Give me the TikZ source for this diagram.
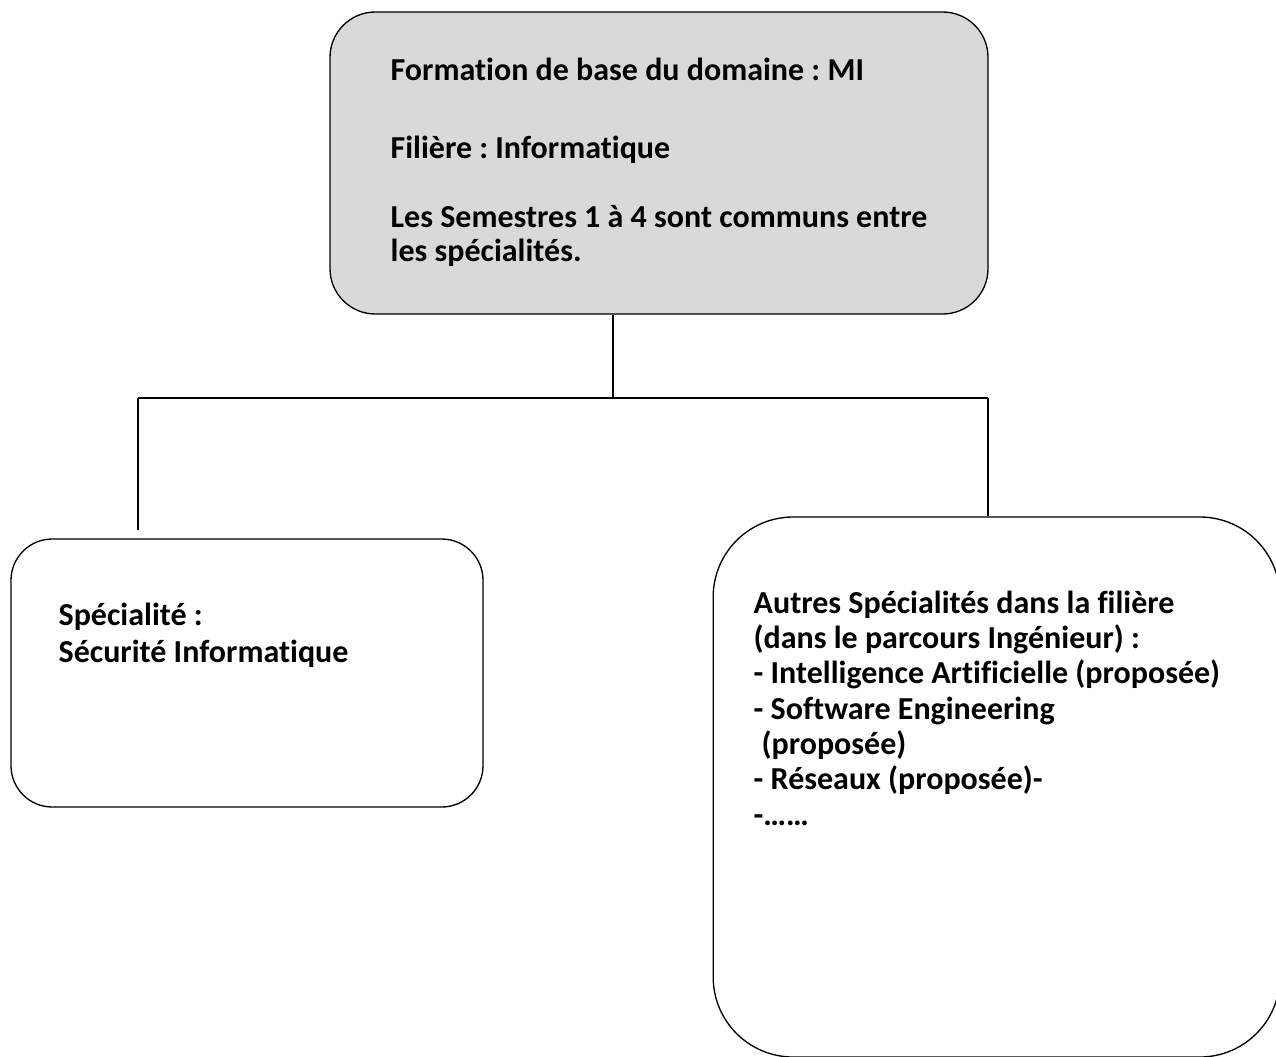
\documentclass[tikz,border=0pt]{standalone}
\usepackage{fontspec}
\setmainfont{Carlito}[Ligatures=NoCommon]
\usetikzlibrary{positioning,calc}
\definecolor{boxgray}{HTML}{D9D9D9}
\newcommand\boxfont[1]{\bfseries\fontsize{24}{#1}\selectfont\frenchspacing\lineskiplimit=-20pt\relax}

\tikzset{
  box/.style={draw, rounded corners=#1, inner sep=0pt},
  boxtext/.style={anchor=base west, align=left, inner sep=0pt},
}

\begin{document}
\begin{tikzpicture}[x=0.75pt, y=-0.75pt, line width=1pt]
    \useasboundingbox (0,0) rectangle (1276,1056);
    \clip (0,0) rectangle (1276,1056);

    % Boxes
    \node[box=34pt, fill=boxgray, minimum width=493.5pt, minimum height=226.5pt] (base) at (659,163) {};
    \node[box=31pt, minimum width=354pt, minimum height=201pt] (secu) at (247,673) {};
    \node[box=60pt, minimum width=425pt, minimum height=405pt] (autres) at (996.5,787) {};

    % Texts (anchored at the baseline of the last line)
    \node[boxtext, font=\boxfont{25.5pt}] (basetext) at (390,261)
        {Formation de base du domaine : MI\\[33pt]
         Filière : Informatique\\[26.25pt]
         Les Semestres 1 à 4 sont communs entre\\
         les spécialités.};
    \node[boxtext, font=\boxfont{27.75pt}] (secutext) at (58,662)
        {Spécialité :\\
         Sécurité Informatique};
    \node[boxtext, font=\boxfont{26.5pt}] (autrestext) at (753,825)
        {Autres Spécialités dans la filière\\
         (dans le parcours Ingénieur) :\\
         - Intelligence Artificielle (proposée)\\
         - Software Engineering\\
         \hspace{0.25em}(proposée)\\
         - Réseaux (proposée)-\\
         -……};

    % Connectors
    \coordinate (hub) at (613,398);
    \coordinate (lefthub) at (138,398);
    \coordinate (righthub) at (988,398);
    \draw (base.south -| hub) -- (hub);
    \draw (lefthub) -- (righthub);
    \draw[shorten >=6pt] (lefthub) -- (lefthub |- secu.north);
    \draw (righthub) -- (righthub |- autres.north);
\end{tikzpicture}
\end{document}
